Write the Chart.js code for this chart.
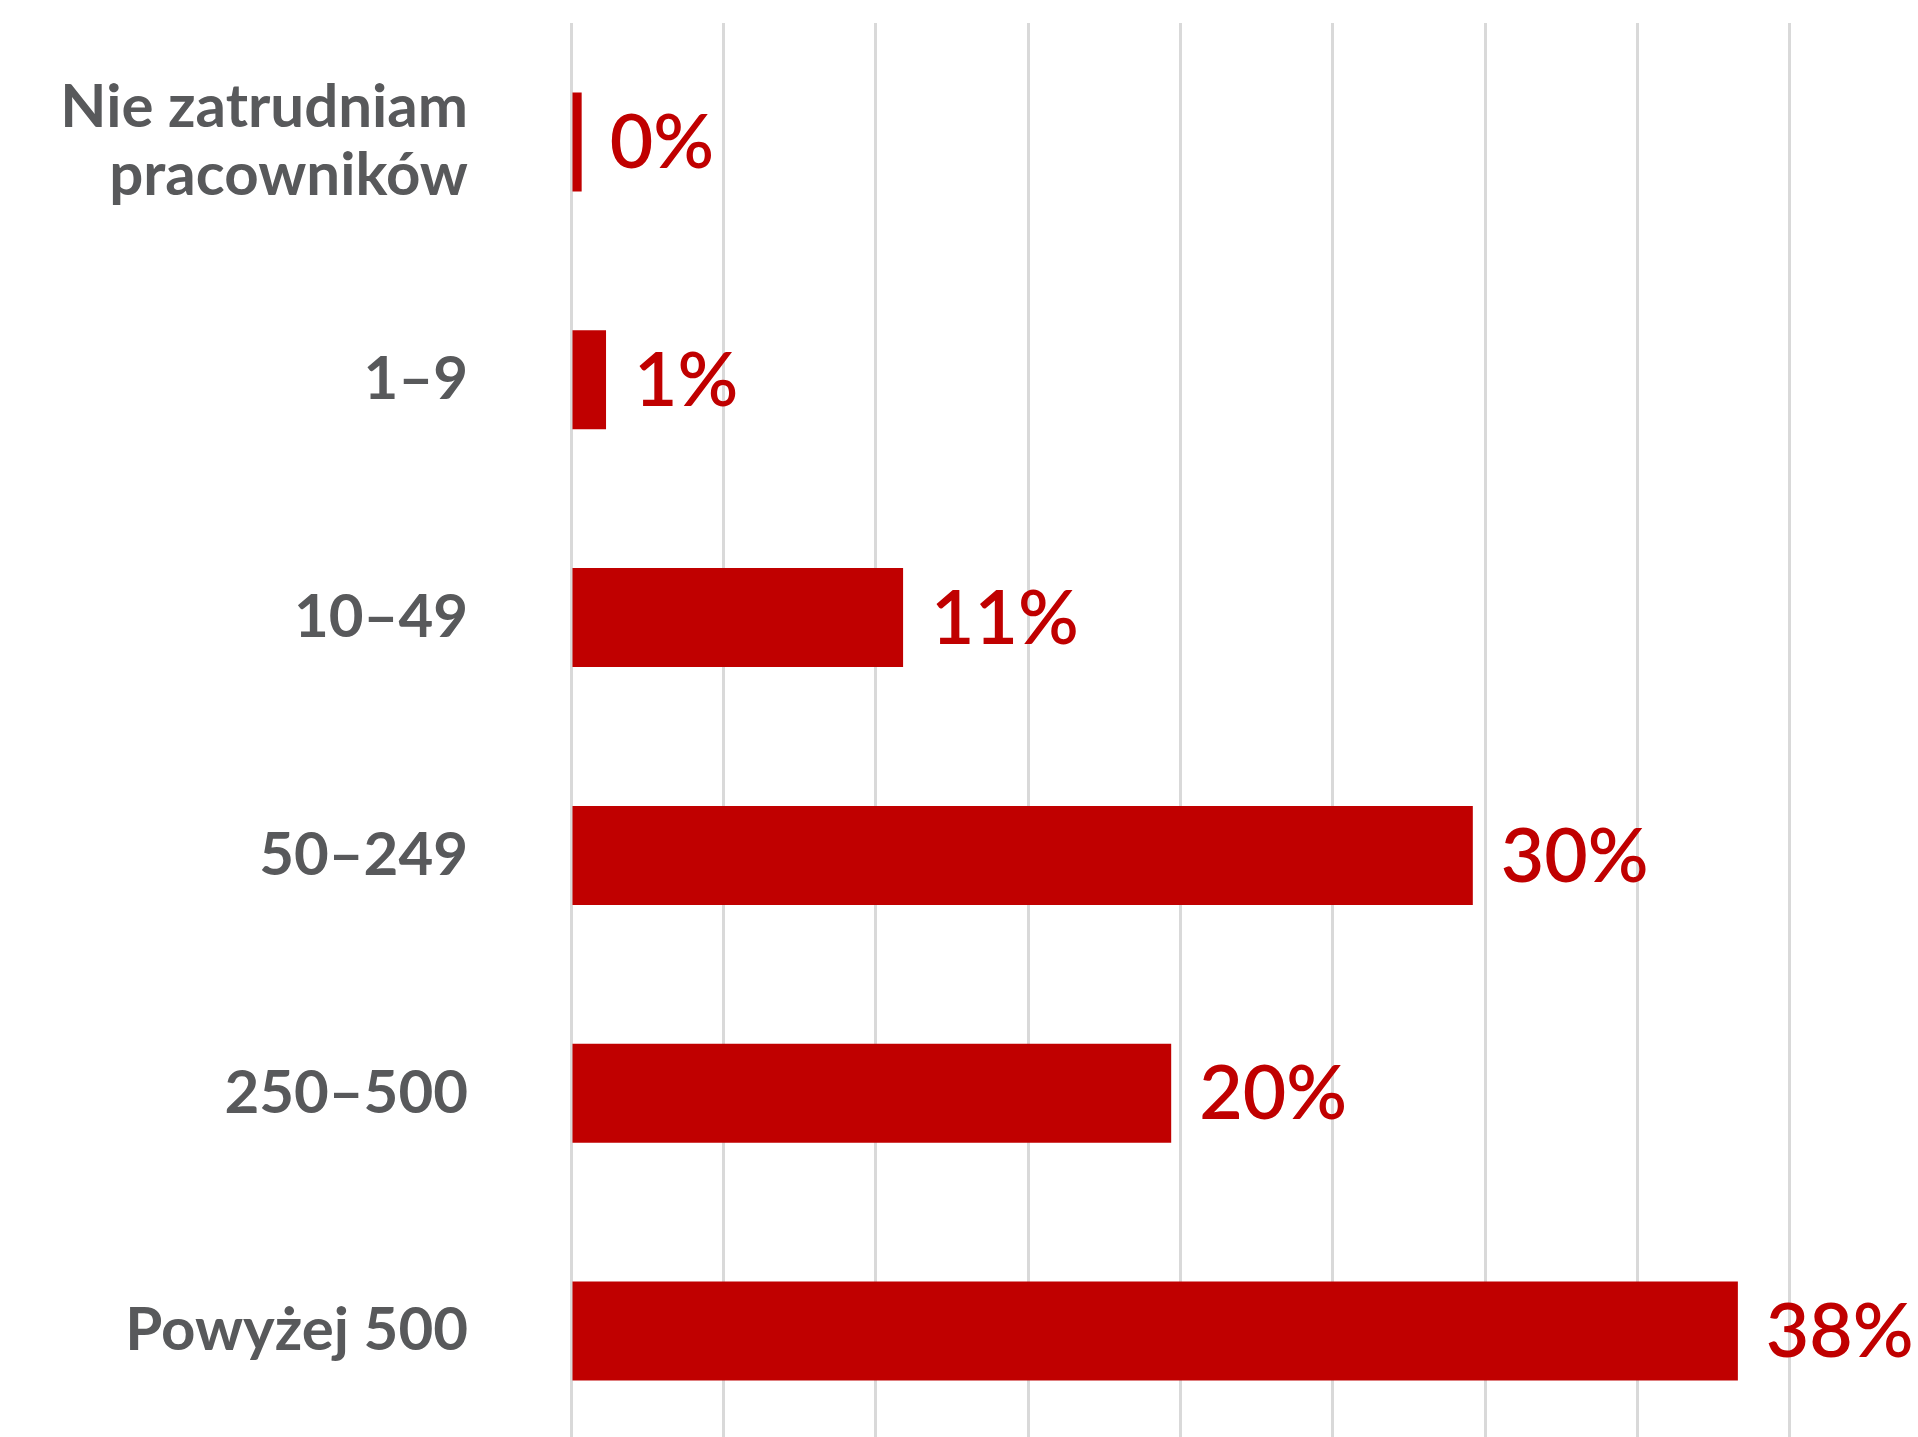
<!DOCTYPE html>
<html lang="pl">
<head>
<meta charset="utf-8">
<title>Wielkość firmy</title>
<script src="https://cdn.jsdelivr.net/npm/chart.js@4.4.1/dist/chart.umd.min.js"></script>
<style>
  html, body { margin: 0; padding: 0; background: #fff; overflow: hidden; }
  canvas { display: block; }
</style>
</head>
<body>
<canvas id="sizeChart" width="1942" height="1450"></canvas>
<script>
// liczba pracowników w firmie
const categories = [
  ['Nie zatrudniam', 'pracowników'],
  '1–9',
  '10–49',
  '50–249',
  '250–500',
  'Powyżej 500'
]
// odsetek odpowiedzi (%)
const shares = [0.35, 1.15, 10.9, 29.6, 19.7, 38.3]
const xMax = 45
const xStep = 5

const red = '#C00000'
const grey = '#58595B'

// podpisy wartości na końcu słupków
const barValueLabels = {
  id: 'barValueLabels',
  afterDatasetsDraw(chart) {
    const ctx = chart.ctx
    const meta = chart.getDatasetMeta(0)
    ctx.save()
    ctx.font = '600 75px Lato'
    ctx.fillStyle = red
    ctx.textAlign = 'left'
    ctx.textBaseline = 'middle'
    meta.data.forEach((bar, i) => {
      const v = chart.data.datasets[0].data[i]
      ctx.fillText(Math.round(v) + '%', bar.x + 28, bar.y + 2)
    })
    ctx.restore()
  }
}

let ctx = document.getElementById('sizeChart').getContext('2d')
let sizeChart = new Chart(ctx, {
  type: 'bar',
  data: {
    labels: categories,
    datasets: [
      {
        data: shares,
        backgroundColor: red,
        borderWidth: 0,
        categoryPercentage: 1,
        barPercentage: 0.416,
      },
    ],
  },
  options: {
    indexAxis: 'y',
    responsive: false,
    animation: false,
    layout: { padding: { top: 23, left: 0, right: 0, bottom: 0 } },
    plugins: {
      legend: { display: false },
      tooltip: { enabled: false },
    },
    scales: {
      x: {
        min: 0,
        max: xMax,
        ticks: { display: false, stepSize: xStep },
        grid: { color: '#D9D9D9', lineWidth: 3, drawTicks: false },
        border: { display: false },
      },
      y: {
        grid: { display: false, drawTicks: false },
        border: { display: false },
        ticks: {
          color: grey,
          padding: 103,
          font: { family: 'Lato', size: 60, weight: '700', lineHeight: 1.13 },
        },
        afterFit(scale) {
          // stała szerokość osi, bez dodatkowego marginesu nad i pod wykresem
          scale.width = 571
          scale.paddingTop = 0
          scale.paddingBottom = 0
        },
      },
    },
  },
  plugins: [barValueLabels],
})
</script>
</body>
</html>
